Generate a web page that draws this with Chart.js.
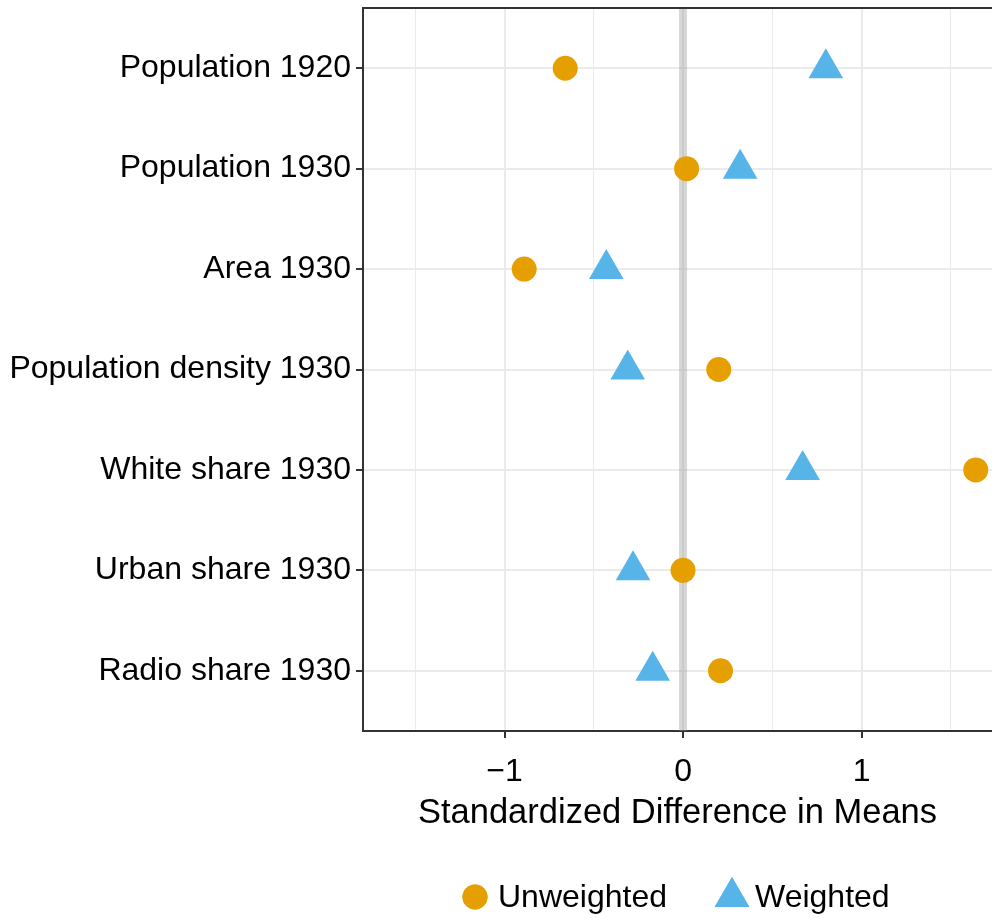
<!DOCTYPE html>
<html>
<head>
<meta charset="utf-8">
<script src="https://cdn.jsdelivr.net/npm/chart.js@4"></script>
<style>
  html, body { margin: 0; padding: 0; background: #fff; }
  #wrap { width: 992px; height: 918px; }
</style>
</head>
<body>
<div id="wrap"><canvas id="balanceChart" width="992" height="918"></canvas></div>
<script>
// covariates, top to bottom
const covariates = [
    "Population 1920",
    "Population 1930",
    "Area 1930",
    "Population density 1930",
    "White share 1930",
    "Urban share 1930",
    "Radio share 1930"
];
const unweighted = [-0.66, 0.02, -0.89, 0.20, 1.64, 0.00, 0.21];
const weighted = [0.80, 0.32, -0.43, -0.31, 0.67, -0.28, -0.17];
const xTicks = [-1.5, -1, -0.5, 0, 0.5, 1, 1.5];
const xLabels = ["", "\u22121", "", "0", "", "1", ""];

const FONT = "'Liberation Sans', Arial, sans-serif";
const ORANGE = "#E69F00";
const BLUE = "#56B4E9";

function toPoints(vals) {
    return vals.map((v, i) => ({ x: v, y: i + 1 }));
}

// no extra label padding around the panel
function noPad(s) {
    s.paddingTop = 0;
    s.paddingBottom = 0;
    s.paddingLeft = 0;
    s.paddingRight = 0;
}

// grey reference line at 0 + top border of the panel + legend
const panelExtras = {
    id: "panelExtras",
    beforeDatasetsDraw(chart) {
        const ctx = chart.ctx, a = chart.chartArea;
        const x0 = chart.scales.x.getPixelForValue(0);
        ctx.save();
        ctx.strokeStyle = "rgba(150,150,150,0.38)";
        ctx.lineWidth = 8;
        ctx.beginPath();
        ctx.moveTo(x0, a.top);
        ctx.lineTo(x0, a.bottom);
        ctx.stroke();
        ctx.restore();
    },
    afterDraw(chart) {
        const ctx = chart.ctx, a = chart.chartArea;
        ctx.save();
        ctx.strokeStyle = "#333333";
        ctx.lineWidth = 2;
        ctx.beginPath();
        ctx.moveTo(a.left - 1, a.top);
        ctx.lineTo(a.right + 2, a.top);
        ctx.stroke();

        // legend
        const ly = 897;
        ctx.font = "32px " + FONT;
        ctx.textBaseline = "middle";
        ctx.textAlign = "left";
        const ds = chart.data.datasets;
        const items = [
            { x: 475, text: ds[0].label, style: "circle", r: 12.5, color: ds[0].backgroundColor },
            { x: 732, text: ds[1].label, style: "triangle", r: 20, color: ds[1].backgroundColor }
        ];
        items.forEach(it => {
            ctx.fillStyle = it.color;
            Chart.helpers.drawPoint(ctx, { pointStyle: it.style, radius: it.r, borderWidth: 0 }, it.x, ly);
            ctx.fill();
            ctx.fillStyle = "#000";
            ctx.fillText(it.text, it.x + 23, ly + 1);
        });
        ctx.restore();
    }
};

const ctx = document.getElementById("balanceChart").getContext("2d");
new Chart(ctx, {
    type: "scatter",
    data: {
        datasets: [
            {
                label: "Unweighted",
                data: toPoints(unweighted),
                backgroundColor: ORANGE,
                borderWidth: 0,
                pointStyle: "circle",
                pointRadius: 12.5,
                pointHoverRadius: 12.5
            },
            {
                label: "Weighted",
                data: toPoints(weighted),
                backgroundColor: BLUE,
                borderWidth: 0,
                pointStyle: "triangle",
                pointRadius: 20,
                pointHoverRadius: 20
            }
        ]
    },
    options: {
        responsive: false,
        animation: false,
        layout: { autoPadding: false, padding: { top: 8, right: 0, bottom: 84, left: 0 } },
        plugins: {
            legend: { display: false },
            tooltip: { enabled: false }
        },
        scales: {
            x: {
                type: "linear",
                min: -1.793,
                max: 1.731,
                afterBuildTicks: s => { s.ticks = xTicks.map(v => ({ value: v })); },
                afterFit: s => { s.height = 103; noPad(s); },
                ticks: {
                    callback: (v, i) => xLabels[i],
                    color: "#000",
                    font: { family: FONT, size: 32 },
                    padding: 15,
                    maxRotation: 0,
                    autoSkip: false
                },
                grid: {
                    color: "#ebebeb",
                    lineWidth: c => (Number.isInteger(c.tick.value) ? 2 : 1),
                    tickColor: c => (Number.isInteger(c.tick.value) ? "#333333" : "rgba(0,0,0,0)"),
                    tickWidth: 2,
                    tickLength: 7
                },
                border: { display: true, color: "#333333", width: 2 },
                title: {
                    display: true,
                    text: "Standardized Difference in Means",
                    color: "#000",
                    font: { family: FONT, size: 34.5 },
                    padding: { top: 0, bottom: 0 }
                }
            },
            y: {
                type: "linear",
                reverse: true,
                min: 0.4,
                max: 7.6,
                afterBuildTicks: s => { s.ticks = covariates.map((c, i) => ({ value: i + 1 })); },
                afterFit: s => { s.width = 363; noPad(s); },
                ticks: {
                    callback: (v, i) => covariates[i],
                    color: "#000",
                    font: { family: FONT, size: 32 },
                    padding: 5,
                    autoSkip: false
                },
                grid: {
                    color: "#ebebeb",
                    lineWidth: 2,
                    tickColor: "#333333",
                    tickWidth: 2,
                    tickLength: 7
                },
                border: { display: true, color: "#333333", width: 2 }
            }
        }
    },
    plugins: [panelExtras]
});
</script>
</body>
</html>
